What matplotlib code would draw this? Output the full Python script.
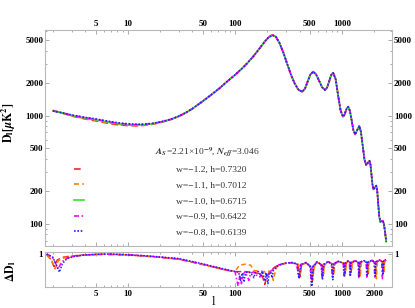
import matplotlib
matplotlib.use("Agg")
import matplotlib.pyplot as plt
from matplotlib.ticker import FixedLocator, LogLocator, NullFormatter, FixedFormatter

plt.rcParams['font.family'] = ['Liberation Serif', 'DejaVu Serif']
plt.rcParams['mathtext.fontset'] = 'stix'
plt.rcParams['font.weight'] = 'bold'

# ---- main panel data: D_l for each model (low-l part differs, the rest overlaps)
l_low = [2, 2.5, 3, 4, 5, 6, 7, 8, 10, 12, 14, 17, 20, 25]
D_low_red = [1120, 1050, 993, 934, 897, 866, 841, 825, 811, 807, 813, 834, 864, 918]
D_low_orange = [1114, 1052, 999, 943, 908, 876, 851, 835, 819, 814, 819, 838, 867, 920]
D_low_green = [1110, 1055, 1005, 951, 918, 887, 862, 845, 827, 821, 825, 843, 870, 922]
D_low_magenta = [1107, 1058, 1011, 959, 927, 897, 872, 854, 835, 828, 831, 847, 873, 924]
D_low_blue = [1105, 1060, 1015, 965, 935, 905, 880, 862, 842, 834, 836, 850, 875, 925]

l_high = [30, 35, 40, 50, 60, 72, 85, 100, 115, 130,
          150, 170, 190, 205, 222, 240, 261, 283, 306, 333,
          360, 390, 423, 449, 476, 505, 536, 571, 610, 650,
          693, 724, 756, 789, 824, 869, 915, 966, 1017, 1046,
          1075, 1106, 1137, 1181, 1227, 1273, 1322, 1380, 1443, 1496,
          1554, 1614, 1675, 1736, 1800, 1839, 1879, 1921, 1963, 2020,
          2080, 2125, 2170, 2218, 2266, 2332, 2400, 2450, 2500, 2540, 2576]
D_high = [990, 1070, 1160, 1360, 1560, 1800, 2080, 2380, 2700, 3050,
          3580, 4200, 4850, 5280, 5560, 5400, 4660, 3810, 3040, 2390,
          1990, 1742, 1665, 1771, 2061, 2399, 2550, 2411, 2099, 1829,
          1727, 1821, 2075, 2366, 2494, 2178, 1563, 1122, 979, 1010,
          1089, 1174, 1211, 1111, 903, 733, 673, 735, 803, 712,
          530, 395, 350, 366, 384, 351, 283, 228, 209, 217,
          226, 202, 154, 118, 105, 106, 107, 100, 88, 77, 68.5]

labels = ['w=\u22121.2, h=0.7320', 'w=\u22121.1, h=0.7012', 'w=\u22121.0, h=0.6715',
          'w=\u22120.9, h=0.6422', 'w=\u22120.8, h=0.6139']
colors = ['#ff2020', '#ff8000', '#33dd33', '#ff00ff', '#2020ff']
dashes = [(4, 2), (3, 2), (), (3, 1.5, 1, 1.5), (1, 1)]
D_lows = [D_low_red, D_low_orange, D_low_green, D_low_magenta, D_low_blue]

# ---- lower panel data: Delta D_l (no curve for the reference w=-1.0)
l_dev_red = [1.75, 1.9, 2.05, 2.2, 2.5, 3, 4, 6, 10, 15, 20, 30, 50, 80, 100, 120, 140, 160, 175, 185,
             190, 196, 205, 215, 235,
             250, 290, 340, 386, 402, 418, 460, 512, 529, 545, 580, 650, 665, 680, 740, 812, 830, 848,
             920, 1045, 1066, 1087, 1130, 1198, 1214, 1230, 1320, 1441, 1465, 1489, 1600, 1716, 1740,
             1764, 1900, 2030, 2065, 2100, 2250, 2395, 2436, 2477, 2560]
dev_red = [0.98, 0.85, 0.62, 0.82, 0.9, 0.94, 0.97, 0.99, 0.97, 0.93, 0.9, 0.84, 0.68, 0.52, 0.46, 0.47, 0.45,
           0.42, 0.4, 0.22, 0.08, 0.28, 0.4, 0.5, 0.6,
           0.65, 0.71, 0.73, 0.69, 0.30, 0.67, 0.73, 0.61, 0.20, 0.61, 0.75, 0.67, 0.35, 0.67, 0.76, 0.69,
           0.35, 0.69, 0.77, 0.71, 0.40, 0.71, 0.78, 0.73, 0.45, 0.73, 0.79, 0.73, 0.40, 0.74, 0.79, 0.73,
           0.40, 0.74, 0.80, 0.74, 0.35, 0.75, 0.81, 0.75, 0.45, 0.77, 0.82]

l_dev_orange = [1.75, 1.95, 2.1, 2.25, 2.6, 3, 4, 6, 10, 15, 20, 30, 50, 80, 100, 110, 125, 140, 150, 165,
                185, 200, 215, 222, 228, 235, 245,
                260, 290, 340, 390, 406, 422, 460, 517, 534, 550, 580, 655, 671, 687, 740, 820, 838, 856,
                920, 1055, 1076, 1097, 1130, 1210, 1226, 1242, 1320, 1455, 1479, 1503, 1600, 1733, 1757,
                1781, 1900, 2050, 2085, 2120, 2250, 2418, 2460, 2500, 2560]
dev_orange = [0.97, 0.8, 0.55, 0.8, 0.89, 0.93, 0.97, 0.99, 0.97, 0.93, 0.9, 0.84, 0.68, 0.52, 0.47, 0.66,
              0.69, 0.66, 0.5, 0.48, 0.45, 0.5, 0.45, 0.35, 0.2, 0.4, 0.6,
              0.66, 0.71, 0.73, 0.69, 0.35, 0.67, 0.73, 0.61, 0.30, 0.61, 0.75, 0.67, 0.40, 0.67, 0.76,
              0.69, 0.38, 0.69, 0.77, 0.71, 0.45, 0.71, 0.78, 0.73, 0.50, 0.73, 0.79, 0.73, 0.30, 0.74,
              0.79, 0.73, 0.42, 0.74, 0.80, 0.74, 0.25, 0.75, 0.81, 0.75, 0.45, 0.77, 0.82]

l_dev_magenta = [1.75, 2.0, 2.25, 2.4, 2.7, 3.2, 4, 6, 10, 15, 20, 30, 50, 80, 100, 104, 107, 111, 115, 119,
                 125, 135, 140, 150, 160, 171, 178, 190, 200, 210, 230,
                 250, 290, 340, 376, 392, 408, 460, 500, 515, 531, 580, 633, 648, 663, 740, 792, 810, 828,
                 920, 1020, 1040, 1060, 1130, 1168, 1184, 1200, 1320, 1405, 1428, 1451, 1600, 1672, 1696,
                 1720, 1900, 1980, 2014, 2048, 2250, 2335, 2375, 2415, 2560]
dev_magenta = [1.0, 0.88, 0.55, 0.75, 0.87, 0.93, 0.97, 0.99, 0.98, 0.94, 0.9, 0.85, 0.69, 0.53, 0.47, 0.2,
               0.03, 0.35, 0.1, 0.4, 0.45, 0.2, 0.42, 0.46, 0.35, 0.3, 0.48, 0.45, 0.3, 0.45, 0.55,
               0.66, 0.72, 0.74, 0.70, 0.30, 0.68, 0.74, 0.62, 0.15, 0.62, 0.76, 0.68, 0.30, 0.68, 0.77,
               0.70, 0.30, 0.70, 0.78, 0.72, 0.35, 0.72, 0.79, 0.74, 0.35, 0.74, 0.80, 0.74, 0.25, 0.75,
               0.80, 0.74, 0.30, 0.75, 0.81, 0.75, 0.30, 0.76, 0.82, 0.76, 0.25, 0.78, 0.83]

l_dev_blue = [1.75, 2.0, 2.2, 2.3, 2.45, 2.7, 3.2, 4, 5, 7, 10, 15, 20, 30, 50, 80, 100, 108, 113, 117,
              121, 125, 130, 140, 150, 155, 165, 175, 180, 190, 196, 203, 208, 215, 222, 228,
              250, 290, 340, 380, 396, 412, 460, 505, 521, 537, 580, 640, 655, 670, 740, 800, 818, 836,
              920, 1030, 1050, 1070, 1130, 1180, 1196, 1212, 1320, 1420, 1443, 1466, 1600, 1690, 1714,
              1738, 1900, 2000, 2034, 2068, 2250, 2360, 2400, 2440, 2560]
dev_blue = [1.0, 0.9, 0.6, 0.45, 0.7, 0.86, 0.93, 0.97, 0.99, 1.0, 0.97, 0.94, 0.91, 0.86, 0.70, 0.54, 0.47,
            0.45, 0.2, 0.42, 0.15, 0.4, 0.45, 0.43, 0.28, 0.44, 0.47, 0.33, 0.47, 0.18, 0.42, 0.1, 0.38,
            0.45, 0.28, 0.5,
            0.64, 0.72, 0.74, 0.70, 0.25, 0.68, 0.74, 0.62, 0.02, 0.62, 0.76, 0.68, 0.22, 0.68, 0.77,
            0.70, 0.22, 0.70, 0.78, 0.72, 0.30, 0.72, 0.79, 0.74, 0.36, 0.74, 0.80, 0.74, 0.30, 0.75,
            0.80, 0.74, 0.33, 0.75, 0.81, 0.75, 0.33, 0.76, 0.82, 0.76, 0.36, 0.78, 0.83]

top_ticks = [5, 10, 50, 100, 500, 1000]
bottom_ticks = [5, 10, 50, 100, 500, 1000, 2000]
y_ticks = [100, 200, 500, 1000, 2000, 5000]

frame_col = '#b8b8b8'
tick_col = '#888888'

fig = plt.figure(figsize=(4.15, 3.08), dpi=100)
ax = fig.add_axes([0.1092, 0.2023, 0.8347, 0.6993])
ax2 = fig.add_axes([0.1092, 0.0682, 0.8347, 0.1127])

# main panel
for i in range(5):
    ax.plot(l_low + l_high, D_lows[i] + D_high, color=colors[i], lw=1.2,
            dashes=dashes[i], label=labels[i])

ax.set_xscale('log')
ax.set_yscale('log')
ax.set_xlim(1.7, 2900)
ax.set_ylim(63, 6150)
ax.xaxis.set_major_locator(FixedLocator(top_ticks))
ax.xaxis.set_major_formatter(FixedFormatter([str(t) for t in top_ticks]))
ax.xaxis.set_minor_locator(LogLocator(base=10, subs=range(1, 10), numticks=20))
ax.xaxis.set_minor_formatter(NullFormatter())
ax.yaxis.set_major_locator(FixedLocator(y_ticks))
ax.yaxis.set_major_formatter(FixedFormatter([str(t) for t in y_ticks]))
ax.yaxis.set_minor_locator(LogLocator(base=10, subs=range(1, 10), numticks=20))
ax.yaxis.set_minor_formatter(NullFormatter())
ax.tick_params(which='both', direction='in', top=True, right=True, labeltop=True,
               labelbottom=False, labelleft=True, labelright=True, color=tick_col,
               width=0.5, labelsize=6.5, pad=1.5)
ax.tick_params(which='major', length=3)
ax.tick_params(which='minor', length=1.6)

ax.set_ylabel(r'$\mathrm{D}_\mathrm{l}[\mu\mathrm{K}^2]$', fontsize=8.5, fontweight='normal')
ax.yaxis.set_label_coords(-0.08, 0.57)

ax.text(0.467, 0.435, r'$A_S$=2.21×10$^{-9}$, $N_{eff}$=3.046', transform=ax.transAxes,
        ha='center', va='center', fontsize=6.8, fontweight='normal', color='#333333')

leg = ax.legend(loc='upper left', bbox_to_anchor=(0.083, 0.372), borderpad=0, borderaxespad=0,
                handlelength=1.0, handletextpad=9.8, labelspacing=0.74, frameon=False,
                prop={'family': 'Liberation Serif', 'size': 6.8, 'weight': 'normal'})
for t in leg.get_texts():
    t.set_color('#333333')

# lower panel
dev_l = [l_dev_red, l_dev_orange, l_dev_magenta, l_dev_blue]
dev_v = [dev_red, dev_orange, dev_magenta, dev_blue]
dev_idx = [0, 1, 3, 4]
for k in range(4):
    i = dev_idx[k]
    ax2.plot(dev_l[k], dev_v[k], color=colors[i], lw=1.1, dashes=dashes[i])

ax2.set_xscale('log')
ax2.set_xlim(1.7, 2900)
ax2.set_ylim(0, 1.05)
ax2.xaxis.set_major_locator(FixedLocator(bottom_ticks))
ax2.xaxis.set_major_formatter(FixedFormatter([str(t) for t in bottom_ticks]))
ax2.xaxis.set_minor_locator(LogLocator(base=10, subs=range(1, 10), numticks=20))
ax2.xaxis.set_minor_formatter(NullFormatter())
ax2.set_yticks([1])
ax2.set_yticklabels(['1'])
ax2.tick_params(which='both', direction='in', top=True, right=True, labelleft=True,
                labelright=True, color=tick_col, width=0.5, labelsize=6.5, pad=1.5)
ax2.tick_params(which='major', length=3)
ax2.tick_params(which='minor', length=1.6)
ax2.tick_params(axis='x', pad=2.5)

ax2.set_ylabel(r'$\Delta\mathrm{D}_\mathrm{l}$', fontsize=8.5, fontweight='normal')
ax2.yaxis.set_label_coords(-0.08, 0.46)
ax2.set_xlabel('l', fontsize=9, fontweight='normal')
ax2.xaxis.set_label_coords(0.484, -0.26)

for a in (ax, ax2):
    for s in a.spines.values():
        s.set_color(frame_col)
        s.set_linewidth(0.8)

fig.savefig('out.png', dpi=100)
